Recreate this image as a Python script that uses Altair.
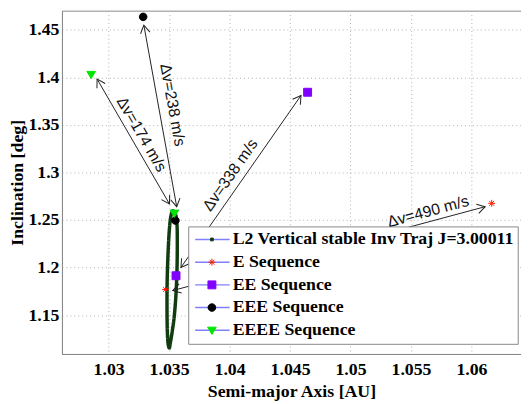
import math
import altair as alt
import pandas as pd

# ---------------- data ----------------
x_domain = [1.026142, 1.064095]
y_domain = [1.10927, 1.47001]
x_ticks = [1.03, 1.035, 1.04, 1.045, 1.05, 1.055, 1.06]
y_ticks = [1.15, 1.2, 1.25, 1.3, 1.35, 1.4, 1.45]

# L2 vertical stable invariant trajectory (closed loop)
ell_a = [1.035343, 1.035546, 1.035653, 1.035677, 1.035669, 1.035628, 1.035546,
         1.035424, 1.035261, 1.035098, 1.035016, 1.034910, 1.034853, 1.034829,
         1.034829, 1.034853, 1.034910, 1.034992, 1.035098, 1.035220]
ell_i = [1.25958, 1.25543, 1.24507, 1.22952, 1.20878, 1.18805, 1.16732,
         1.14866, 1.13311, 1.12067, 1.11549, 1.12067, 1.13311, 1.15177,
         1.17251, 1.19324, 1.21397, 1.23470, 1.25025, 1.25751]

series_names = ["L2 Vertical stable Inv Traj J=3.00011", "E Sequence",
                "EE Sequence", "EEE Sequence", "EEEE Sequence"]
series_colors = ["#103c10", "#ff1a00", "#8000ff", "#000000", "#00e600"]
series_shapes = [
    "M-0.08,-0.08H0.08V0.08H-0.08Z",
    "M0,-0.2V0.2M-0.2,0H0.2M-0.14,-0.14L0.14,0.14M-0.14,0.14L0.14,-0.14",
    "M-0.23,-0.23H0.23V0.23H-0.23Z",
    "M0.22,0A0.22,0.22,0,1,1,-0.22,0A0.22,0.22,0,1,1,0.22,0Z",
    "M-0.25,-0.18L0.25,-0.18L0,0.24Z",
]
loop_color = "#103c10"
legend_line_color = "#7f7fff"

# sequence markers: point on the loop and target point
seq_names = ["E Sequence", "EE Sequence", "EEE Sequence", "EEEE Sequence"]
start_a = [1.034706, 1.035571, 1.035522, 1.035440]
start_i = [1.17696, 1.19147, 1.24952, 1.25719]
target_a = [1.061672, 1.046452, 1.032855, 1.028556]
target_i = [1.26756, 1.38428, 1.46348, 1.40294]

# delta-v arrows
dv_labels = ["\u0394v=490 m/s", "\u0394v=338 m/s", "\u0394v=238 m/s", "\u0394v=174 m/s"]
arrow_a0 = [1.035302, 1.035979, 1.035628, 1.035033]
arrow_i0 = [1.17592, 1.20018, 1.26404, 1.26684]
arrow_a1 = [1.061134, 1.045905, 1.032912, 1.029046]
arrow_i1 = [1.26404, 1.38086, 1.45477, 1.39817]
label_a = [1.056420, 1.040062, 1.035278, 1.032724]
label_i = [1.25890, 1.29725, 1.37084, 1.33991]

# ---------------- layout ----------------
W, H = 465.3, 348
kx = W / (x_domain[1] - x_domain[0])
ky = H / (y_domain[1] - y_domain[0])

line_keys = [n + "\u200b" for n in series_names]

ell_df = pd.DataFrame({"a": ell_a, "i": ell_i, "k": list(range(len(ell_a))),
                       "series2": line_keys[0]})

pts_df = pd.DataFrame({
    "a": start_a + target_a,
    "i": start_i + target_i,
    "series": seq_names + seq_names,
})

rows, heads, texts = [], [], []
for lab, a0, i0, a1, i1, la, li in zip(dv_labels, arrow_a0, arrow_i0, arrow_a1,
                                       arrow_i1, label_a, label_i):
    ang = math.degrees(math.atan2(-(i1 - i0) * ky, (a1 - a0) * kx)) % 360
    rows.append({"a0": a0, "i0": i0, "a1": a1, "i1": i1})
    heads.append({"a": a1, "i": i1, "ang": ang})
    heads.append({"a": a0, "i": i0, "ang": (ang + 180) % 360})
    tang = ang if math.cos(math.radians(ang)) > 0 else (ang + 180) % 360
    texts.append({"a": la, "i": li, "t": lab, "ang": tang})
rule_df = pd.DataFrame(rows)
head_df = pd.DataFrame(heads)
text_df = pd.DataFrame(texts)

xs = alt.Scale(domain=x_domain, nice=False, zero=False)
ys = alt.Scale(domain=y_domain, nice=False, zero=False)

x_axis = alt.Axis(values=x_ticks, format=".3~f", title="Semi-major Axis [AU]",
                  grid=True, ticks=False, labelPadding=7, titlePadding=4,
                  labelFlush=False, labelOverlap=False)
y_axis = alt.Axis(values=y_ticks, format=".2~f", title="Inclination [deg]",
                  grid=True, ticks=False, labelPadding=3, titlePadding=2,
                  labelOverlap=False)

LX, LY = 128, 218.7
common = dict(title=None, orient="none", legendX=LX, legendY=LY, padding=2,
              clipHeight=22.5, rowPadding=0, symbolSize=1225, symbolOffset=4,
              labelOffset=3, labelFont="Liberation Serif", labelFontWeight="bold",
              labelFontSize=18, labelLimit=800)
marker_legend = alt.Legend(labelColor="black", symbolStrokeWidth=1, **common)
line_legend = alt.Legend(labelOpacity=0, symbolType="stroke",
                         symbolStrokeColor=legend_line_color, symbolStrokeWidth=1.5,
                         fillColor="white", strokeColor="#888888", **common)

color_scale = alt.Scale(domain=series_names, range=series_colors)
shape_scale = alt.Scale(domain=series_names, range=series_shapes)
dash_scale = alt.Scale(domain=line_keys, range=[[1, 0]] * 5)

ellipse = alt.Chart(ell_df).mark_line(interpolate="cardinal-closed", strokeWidth=3.5,
                                      color=loop_color).encode(
    x=alt.X("a:Q", scale=xs, axis=x_axis),
    y=alt.Y("i:Q", scale=ys, axis=y_axis),
    order="k:Q",
    strokeDash=alt.StrokeDash("series2:N", scale=dash_scale, legend=line_legend),
)

arrows = alt.Chart(rule_df).mark_rule(color="#222222", strokeWidth=1).encode(
    x=alt.X("a0:Q", scale=xs), y=alt.Y("i0:Q", scale=ys), x2="a1:Q", y2="i1:Q")

arrow_heads = alt.Chart(head_df).mark_point(
    shape="M-1,-0.6L0,0L-1,0.6", filled=False, size=256, color="#222222",
    strokeWidth=1, opacity=1).encode(
    x=alt.X("a:Q", scale=xs), y=alt.Y("i:Q", scale=ys),
    angle=alt.Angle("ang:Q", scale=None))

dv_text = alt.Chart(text_df).mark_text(font="Liberation Sans", fontSize=16,
                                       color="#111111", baseline="middle").encode(
    x=alt.X("a:Q", scale=xs), y=alt.Y("i:Q", scale=ys), text="t:N",
    angle=alt.Angle("ang:Q", scale=None))

points = alt.Chart(pts_df).mark_point(filled=True, size=1225, opacity=1,
                                      strokeWidth=1).encode(
    x=alt.X("a:Q", scale=xs), y=alt.Y("i:Q", scale=ys),
    fill=alt.Fill("series:N", scale=color_scale, legend=marker_legend),
    stroke=alt.Stroke("series:N", scale=color_scale, legend=marker_legend),
    shape=alt.Shape("series:N", scale=shape_scale, legend=marker_legend),
)

chart = alt.layer(ellipse, arrows, arrow_heads, dv_text, points).properties(
    width=W, height=H, autosize="none",
    padding={"left": 54.7, "top": 0, "right": 0, "bottom": 48},
).configure_view(stroke="#888888", strokeWidth=1).configure_axis(
    labelFont="Liberation Serif", labelFontWeight="bold", labelFontSize=18,
    labelColor="black", titleFont="Liberation Serif", titleFontWeight="bold",
    titleFontSize=18, titleColor="black", domainColor="#888888",
    gridColor="#b0b0b0", gridDash=[1, 3], gridWidth=1,
)

chart.save("out.html", embed_options={"renderer": "svg", "actions": False})
